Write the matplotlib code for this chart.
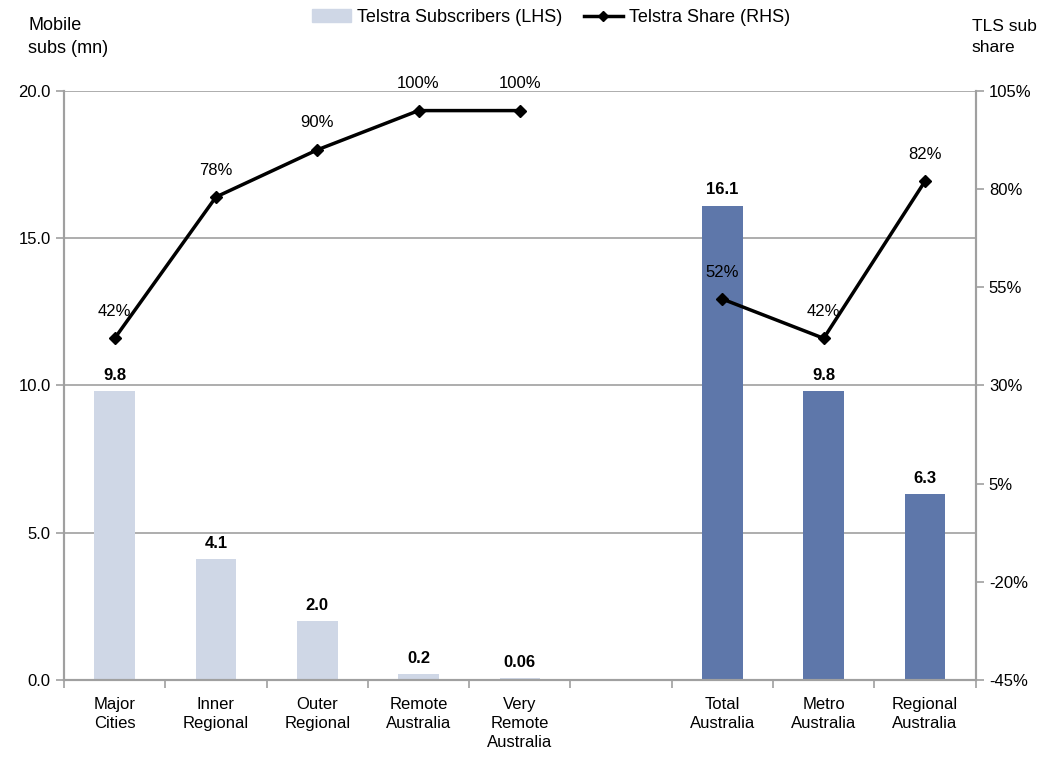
import numpy as np
import matplotlib.pyplot as plt
from matplotlib.patches import Patch
from matplotlib.lines import Line2D
from matplotlib import font_manager

names = {f.name for f in font_manager.fontManager.ttflist}
fam = 'Liberation Sans Narrow' if 'Liberation Sans Narrow' in names else 'Liberation Sans'
plt.rcParams['font.family'] = [fam, 'DejaVu Sans']

categories = ['Major\nCities', 'Inner\nRegional', 'Outer\nRegional', 'Remote\nAustralia',
              'Very\nRemote\nAustralia', '', 'Total\nAustralia', 'Metro\nAustralia',
              'Regional\nAustralia']
subs_regions = [9.8, 4.1, 2.0, 0.2, 0.06]
subs_labels_regions = ['9.8', '4.1', '2.0', '0.2', '0.06']
share_regions = [42, 78, 90, 100, 100]
subs_totals = [16.1, 9.8, 6.3]
subs_labels_totals = ['16.1', '9.8', '6.3']
share_totals = [52, 42, 82]

light = '#CFD7E6'
dark = '#5E77AA'
grey = '#A0A0A0'

x = np.arange(len(categories))
x_reg = x[:5]
x_tot = x[6:]

fig = plt.figure(figsize=(10.43, 7.58), dpi=100)
ax = fig.add_axes([0.0614, 0.103, 0.874, 0.777])
ax2 = ax.twinx()

ax.bar(x_reg, subs_regions, width=0.4, color=light, zorder=2)
ax.bar(x_tot, subs_totals, width=0.4, color=dark, zorder=2)
for xi, v, s in zip(list(x_reg) + list(x_tot), subs_regions + subs_totals,
                    subs_labels_regions + subs_labels_totals):
    ax.annotate(s, (xi, v), xytext=(0, 6), textcoords='offset points',
                ha='center', va='bottom', fontsize=12, fontweight='bold')

ax.set_ylim(0, 20)
ax.set_yticks([0, 5, 10, 15, 20])
ax.set_yticklabels(['0.0', '5.0', '10.0', '15.0', '20.0'])
ax.yaxis.grid(True, color=grey, linewidth=1.2, zorder=0)
ax.set_axisbelow(True)
ax.set_xlim(-0.5, len(categories) - 0.5)
ax.set_xticks(x)
ax.set_xticklabels(categories, fontsize=12, va='top', linespacing=1.35)
ax.set_xticks(np.arange(-0.5, len(categories), 1.0), minor=True)
ax.tick_params(axis='x', which='major', length=0, pad=12)
ax.tick_params(axis='x', which='minor', length=6, color=grey, width=1.2)
ax.tick_params(axis='y', labelsize=12, length=6, color=grey, width=1.2)

ax2.plot(x_reg, share_regions, color='black', lw=2.5, marker='D', ms=6, zorder=3)
ax2.plot(x_tot, share_totals, color='black', lw=2.5, marker='D', ms=6, zorder=3)
for xi, v in zip(list(x_reg) + list(x_tot), share_regions + share_totals):
    ax2.annotate(f'{v}%', (xi, v), xytext=(0, 14), textcoords='offset points',
                 ha='center', va='bottom', fontsize=12)
ax2.set_ylim(-45, 105)
ax2.set_yticks(np.arange(-45, 106, 25))
ax2.set_yticklabels([f'{t}%' for t in np.arange(-45, 106, 25)])
ax2.tick_params(axis='y', labelsize=12, length=6, color=grey, width=1.2)

for a in (ax, ax2):
    a.spines['top'].set_visible(False)
    for s in ('left', 'right', 'bottom'):
        a.spines[s].set_color(grey)
        a.spines[s].set_linewidth(1.5)

fig.text(0.027, 0.951, 'Mobile\nsubs (mn)', fontsize=13, ha='left', va='center', linespacing=1.45)
fig.text(0.994, 0.951, 'TLS sub\nshare', fontsize=12.5, ha='right', va='center',
         multialignment='left', linespacing=1.45)

handles = [Patch(color=light, label='Telstra Subscribers (LHS)'),
           Line2D([0], [0], color='black', lw=2.5, marker='D', ms=5, label='Telstra Share (RHS)')]
fig.legend(handles=handles, loc='center', bbox_to_anchor=(0.528, 0.977), ncol=2,
           frameon=False, fontsize=13, handlelength=2.2, columnspacing=1.2, handletextpad=0.3)

fig.savefig('out.png', dpi=100)
